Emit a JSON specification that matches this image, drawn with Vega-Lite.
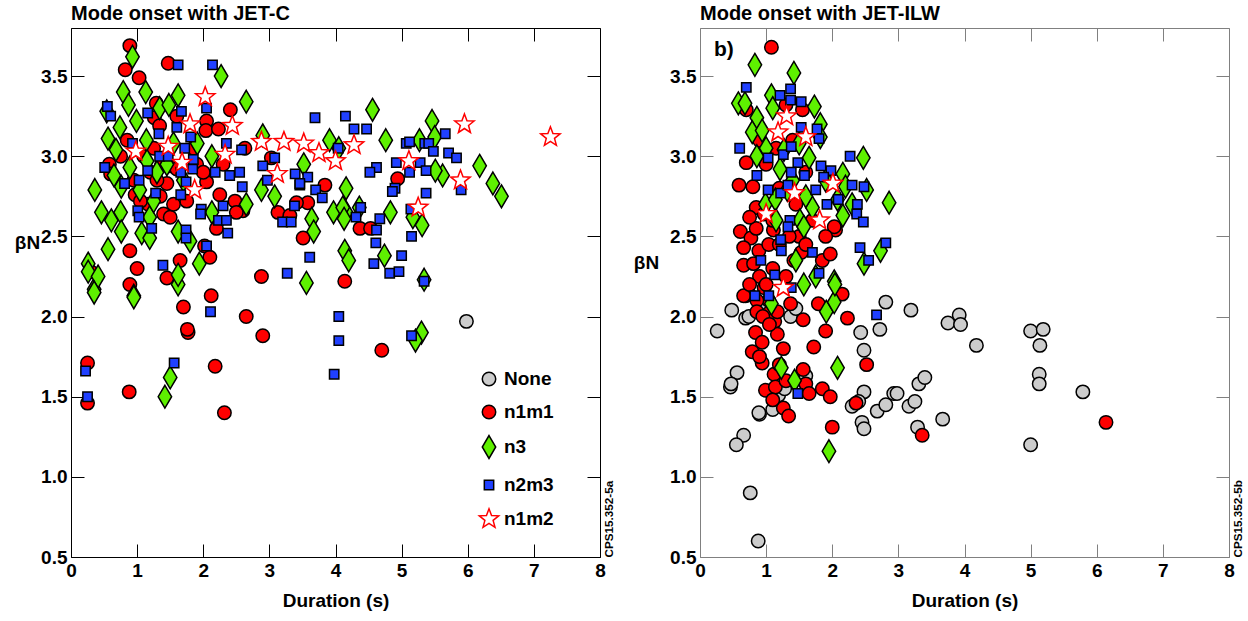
{
  "$schema": "https://vega.github.io/schema/vega-lite/v6.json",
  "padding": {"left": 14, "top": 3, "right": 2, "bottom": 2},
  "background": "white",
  "bounds": "flush",
  "spacing": 100,
  "config": {
    "font": "Liberation Sans",
    "view": {"stroke": null},
    "axis": {"grid": false, "labelFont": "Liberation Sans", "labelFontSize": 19, "labelFontWeight": "bold", "labelColor": "black", "titleFont": "Liberation Sans", "titleFontSize": 19, "titleFontWeight": "bold", "titleColor": "black", "domainColor": "black", "tickColor": "black", "domainWidth": 1, "tickWidth": 1},
    "title": {"font": "Liberation Sans", "fontSize": 20, "fontWeight": "bold", "color": "black", "anchor": "start", "frame": "group", "offset": 4}
  },
  "datasets": {
    "jetc": [
      {"duration": 5.98, "beta": 1.97, "mode": "None"},
      {"duration": 0.89, "beta": 3.69, "mode": "n1m1"}, {"duration": 0.82, "beta": 3.54, "mode": "n1m1"}, {"duration": 1.03, "beta": 3.49, "mode": "n1m1"}, {"duration": 1.47, "beta": 3.58, "mode": "n1m1"}, {"duration": 2.41, "beta": 3.29, "mode": "n1m1"}, {"duration": 1.29, "beta": 3.33, "mode": "n1m1"}, {"duration": 1.26, "beta": 3.24, "mode": "n1m1"}, {"duration": 1.34, "beta": 3.19, "mode": "n1m1"}, {"duration": 2.05, "beta": 3.22, "mode": "n1m1"}, {"duration": 2.04, "beta": 3.16, "mode": "n1m1"}, {"duration": 2.23, "beta": 3.17, "mode": "n1m1"}, {"duration": 0.58, "beta": 2.95, "mode": "n1m1"}, {"duration": 0.60, "beta": 2.89, "mode": "n1m1"}, {"duration": 1.37, "beta": 2.95, "mode": "n1m1"}, {"duration": 1.50, "beta": 2.94, "mode": "n1m1"}, {"duration": 0.97, "beta": 2.76, "mode": "n1m1"}, {"duration": 1.17, "beta": 2.70, "mode": "n1m1"}, {"duration": 1.45, "beta": 2.83, "mode": "n1m1"}, {"duration": 1.40, "beta": 2.64, "mode": "n1m1"}, {"duration": 1.50, "beta": 2.62, "mode": "n1m1"}, {"duration": 0.89, "beta": 2.41, "mode": "n1m1"}, {"duration": 2.05, "beta": 2.84, "mode": "n1m1"}, {"duration": 2.25, "beta": 2.76, "mode": "n1m1"}, {"duration": 2.48, "beta": 2.72, "mode": "n1m1"}, {"duration": 2.60, "beta": 2.66, "mode": "n1m1"}, {"duration": 2.63, "beta": 3.05, "mode": "n1m1"}, {"duration": 2.88, "beta": 2.25, "mode": "n1m1"}, {"duration": 2.02, "beta": 2.44, "mode": "n1m1"}, {"duration": 2.10, "beta": 2.37, "mode": "n1m1"}, {"duration": 1.65, "beta": 2.35, "mode": "n1m1"}, {"duration": 1.45, "beta": 2.24, "mode": "n1m1"}, {"duration": 0.89, "beta": 2.20, "mode": "n1m1"}, {"duration": 2.12, "beta": 2.13, "mode": "n1m1"}, {"duration": 1.70, "beta": 2.06, "mode": "n1m1"}, {"duration": 1.77, "beta": 1.90, "mode": "n1m1"}, {"duration": 2.65, "beta": 2.00, "mode": "n1m1"}, {"duration": 2.90, "beta": 1.88, "mode": "n1m1"}, {"duration": 2.18, "beta": 1.69, "mode": "n1m1"}, {"duration": 0.88, "beta": 1.53, "mode": "n1m1"}, {"duration": 0.25, "beta": 1.71, "mode": "n1m1"}, {"duration": 0.25, "beta": 1.46, "mode": "n1m1"}, {"duration": 2.32, "beta": 1.40, "mode": "n1m1"}, {"duration": 4.70, "beta": 1.79, "mode": "n1m1"}, {"duration": 3.51, "beta": 2.49, "mode": "n1m1"}, {"duration": 3.58, "beta": 2.71, "mode": "n1m1"}, {"duration": 3.84, "beta": 2.82, "mode": "n1m1"}, {"duration": 4.14, "beta": 2.22, "mode": "n1m1"}, {"duration": 4.37, "beta": 2.55, "mode": "n1m1"}, {"duration": 4.53, "beta": 2.55, "mode": "n1m1"}, {"duration": 4.94, "beta": 2.86, "mode": "n1m1"}, {"duration": 3.13, "beta": 2.65, "mode": "n1m1"}, {"duration": 3.31, "beta": 2.63, "mode": "n1m1"}, {"duration": 3.41, "beta": 2.71, "mode": "n1m1"}, {"duration": 3.03, "beta": 2.99, "mode": "n1m1"}, {"duration": 1.76, "beta": 1.92, "mode": "n1m1"}, {"duration": 1.20, "beta": 2.90, "mode": "n1m1"}, {"duration": 1.30, "beta": 2.85, "mode": "n1m1"}, {"duration": 1.10, "beta": 3.00, "mode": "n1m1"}, {"duration": 1.60, "beta": 2.92, "mode": "n1m1"}, {"duration": 1.90, "beta": 2.95, "mode": "n1m1"}, {"duration": 1.25, "beta": 3.05, "mode": "n1m1"}, {"duration": 0.95, "beta": 2.85, "mode": "n1m1"}, {"duration": 1.05, "beta": 2.72, "mode": "n1m1"}, {"duration": 1.75, "beta": 2.72, "mode": "n1m1"}, {"duration": 2.00, "beta": 2.90, "mode": "n1m1"}, {"duration": 1.55, "beta": 2.70, "mode": "n1m1"}, {"duration": 1.35, "beta": 2.75, "mode": "n1m1"}, {"duration": 0.75, "beta": 3.00, "mode": "n1m1"}, {"duration": 0.85, "beta": 3.10, "mode": "n1m1"}, {"duration": 1.85, "beta": 3.05, "mode": "n1m1"}, {"duration": 2.30, "beta": 2.95, "mode": "n1m1"}, {"duration": 1.00, "beta": 2.30, "mode": "n1m1"}, {"duration": 0.30, "beta": 2.28, "mode": "n1m1"}, {"duration": 2.20, "beta": 2.55, "mode": "n1m1"}, {"duration": 1.60, "beta": 3.25, "mode": "n1m1"}, {"duration": 2.50, "beta": 2.65, "mode": "n1m1"},
      {"duration": 0.93, "beta": 3.62, "mode": "n3"}, {"duration": 2.27, "beta": 3.50, "mode": "n3"}, {"duration": 0.79, "beta": 3.40, "mode": "n3"}, {"duration": 1.13, "beta": 3.40, "mode": "n3"}, {"duration": 1.62, "beta": 3.38, "mode": "n3"}, {"duration": 0.87, "beta": 3.32, "mode": "n3"}, {"duration": 0.54, "beta": 3.28, "mode": "n3"}, {"duration": 1.34, "beta": 3.30, "mode": "n3"}, {"duration": 1.48, "beta": 3.32, "mode": "n3"}, {"duration": 2.65, "beta": 3.34, "mode": "n3"}, {"duration": 0.99, "beta": 3.22, "mode": "n3"}, {"duration": 0.74, "beta": 3.18, "mode": "n3"}, {"duration": 0.56, "beta": 3.11, "mode": "n3"}, {"duration": 0.68, "beta": 3.04, "mode": "n3"}, {"duration": 1.14, "beta": 3.10, "mode": "n3"}, {"duration": 1.55, "beta": 3.08, "mode": "n3"}, {"duration": 1.91, "beta": 3.08, "mode": "n3"}, {"duration": 2.13, "beta": 3.00, "mode": "n3"}, {"duration": 1.15, "beta": 2.97, "mode": "n3"}, {"duration": 0.89, "beta": 2.93, "mode": "n3"}, {"duration": 0.36, "beta": 2.79, "mode": "n3"}, {"duration": 0.76, "beta": 2.81, "mode": "n3"}, {"duration": 1.04, "beta": 2.79, "mode": "n3"}, {"duration": 0.46, "beta": 2.65, "mode": "n3"}, {"duration": 0.61, "beta": 2.60, "mode": "n3"}, {"duration": 0.75, "beta": 2.65, "mode": "n3"}, {"duration": 0.76, "beta": 2.53, "mode": "n3"}, {"duration": 1.07, "beta": 2.52, "mode": "n3"}, {"duration": 1.19, "beta": 2.49, "mode": "n3"}, {"duration": 1.19, "beta": 2.62, "mode": "n3"}, {"duration": 0.56, "beta": 2.42, "mode": "n3"}, {"duration": 0.26, "beta": 2.33, "mode": "n3"}, {"duration": 0.26, "beta": 2.28, "mode": "n3"}, {"duration": 0.35, "beta": 2.17, "mode": "n3"}, {"duration": 0.41, "beta": 2.25, "mode": "n3"}, {"duration": 0.95, "beta": 2.13, "mode": "n3"}, {"duration": 1.62, "beta": 2.53, "mode": "n3"}, {"duration": 1.62, "beta": 2.20, "mode": "n3"}, {"duration": 1.62, "beta": 2.26, "mode": "n3"}, {"duration": 1.80, "beta": 2.47, "mode": "n3"}, {"duration": 1.94, "beta": 2.33, "mode": "n3"}, {"duration": 2.13, "beta": 2.65, "mode": "n3"}, {"duration": 2.65, "beta": 2.70, "mode": "n3"}, {"duration": 2.88, "beta": 2.79, "mode": "n3"}, {"duration": 2.90, "beta": 3.13, "mode": "n3"}, {"duration": 3.08, "beta": 2.75, "mode": "n3"}, {"duration": 3.56, "beta": 2.21, "mode": "n3"}, {"duration": 3.52, "beta": 2.95, "mode": "n3"}, {"duration": 3.64, "beta": 2.61, "mode": "n3"}, {"duration": 3.67, "beta": 2.53, "mode": "n3"}, {"duration": 3.91, "beta": 3.10, "mode": "n3"}, {"duration": 4.05, "beta": 3.05, "mode": "n3"}, {"duration": 4.16, "beta": 2.80, "mode": "n3"}, {"duration": 4.16, "beta": 2.65, "mode": "n3"}, {"duration": 4.14, "beta": 2.41, "mode": "n3"}, {"duration": 4.20, "beta": 2.35, "mode": "n3"}, {"duration": 4.56, "beta": 3.29, "mode": "n3"}, {"duration": 5.46, "beta": 3.22, "mode": "n3"}, {"duration": 4.76, "beta": 3.10, "mode": "n3"}, {"duration": 5.27, "beta": 3.10, "mode": "n3"}, {"duration": 5.50, "beta": 3.12, "mode": "n3"}, {"duration": 6.18, "beta": 2.94, "mode": "n3"}, {"duration": 6.38, "beta": 2.83, "mode": "n3"}, {"duration": 6.51, "beta": 2.75, "mode": "n3"}, {"duration": 5.62, "beta": 2.88, "mode": "n3"}, {"duration": 5.51, "beta": 2.91, "mode": "n3"}, {"duration": 3.97, "beta": 2.65, "mode": "n3"}, {"duration": 4.11, "beta": 2.68, "mode": "n3"}, {"duration": 4.13, "beta": 2.61, "mode": "n3"}, {"duration": 4.36, "beta": 2.68, "mode": "n3"}, {"duration": 4.83, "beta": 2.65, "mode": "n3"}, {"duration": 5.17, "beta": 2.62, "mode": "n3"}, {"duration": 5.31, "beta": 2.57, "mode": "n3"}, {"duration": 4.74, "beta": 2.38, "mode": "n3"}, {"duration": 5.34, "beta": 2.23, "mode": "n3"}, {"duration": 5.30, "beta": 1.90, "mode": "n3"}, {"duration": 5.21, "beta": 1.85, "mode": "n3"}, {"duration": 1.50, "beta": 1.62, "mode": "n3"}, {"duration": 1.42, "beta": 1.50, "mode": "n3"}, {"duration": 0.95, "beta": 2.12, "mode": "n3"}, {"duration": 0.35, "beta": 2.15, "mode": "n3"}, {"duration": 1.30, "beta": 2.90, "mode": "n3"}, {"duration": 1.70, "beta": 2.85, "mode": "n3"}, {"duration": 1.45, "beta": 2.95, "mode": "n3"}, {"duration": 0.65, "beta": 2.88, "mode": "n3"}, {"duration": 1.25, "beta": 2.72, "mode": "n3"},
      {"duration": 1.62, "beta": 3.57, "mode": "n2m3"}, {"duration": 2.14, "beta": 3.57, "mode": "n2m3"}, {"duration": 0.55, "beta": 3.31, "mode": "n2m3"}, {"duration": 0.60, "beta": 3.25, "mode": "n2m3"}, {"duration": 1.16, "beta": 3.27, "mode": "n2m3"}, {"duration": 1.67, "beta": 3.28, "mode": "n2m3"}, {"duration": 1.33, "beta": 3.14, "mode": "n2m3"}, {"duration": 1.60, "beta": 3.18, "mode": "n2m3"}, {"duration": 1.81, "beta": 3.12, "mode": "n2m3"}, {"duration": 2.05, "beta": 3.30, "mode": "n2m3"}, {"duration": 2.35, "beta": 3.08, "mode": "n2m3"}, {"duration": 2.58, "beta": 3.04, "mode": "n2m3"}, {"duration": 3.69, "beta": 3.24, "mode": "n2m3"}, {"duration": 4.15, "beta": 3.25, "mode": "n2m3"}, {"duration": 4.28, "beta": 3.17, "mode": "n2m3"}, {"duration": 4.47, "beta": 3.17, "mode": "n2m3"}, {"duration": 4.04, "beta": 3.05, "mode": "n2m3"}, {"duration": 5.66, "beta": 3.14, "mode": "n2m3"}, {"duration": 5.07, "beta": 3.08, "mode": "n2m3"}, {"duration": 5.12, "beta": 3.09, "mode": "n2m3"}, {"duration": 5.35, "beta": 3.08, "mode": "n2m3"}, {"duration": 5.41, "beta": 3.08, "mode": "n2m3"}, {"duration": 5.48, "beta": 3.03, "mode": "n2m3"}, {"duration": 5.71, "beta": 3.02, "mode": "n2m3"}, {"duration": 5.83, "beta": 2.99, "mode": "n2m3"}, {"duration": 5.90, "beta": 2.79, "mode": "n2m3"}, {"duration": 4.62, "beta": 2.93, "mode": "n2m3"}, {"duration": 4.52, "beta": 2.90, "mode": "n2m3"}, {"duration": 4.92, "beta": 2.96, "mode": "n2m3"}, {"duration": 5.12, "beta": 2.90, "mode": "n2m3"}, {"duration": 5.28, "beta": 2.96, "mode": "n2m3"}, {"duration": 5.37, "beta": 2.91, "mode": "n2m3"}, {"duration": 4.90, "beta": 2.80, "mode": "n2m3"}, {"duration": 4.86, "beta": 2.78, "mode": "n2m3"}, {"duration": 5.37, "beta": 2.77, "mode": "n2m3"}, {"duration": 3.58, "beta": 2.87, "mode": "n2m3"}, {"duration": 3.70, "beta": 2.79, "mode": "n2m3"}, {"duration": 3.80, "beta": 2.74, "mode": "n2m3"}, {"duration": 3.46, "beta": 2.82, "mode": "n2m3"}, {"duration": 4.38, "beta": 2.68, "mode": "n2m3"}, {"duration": 4.31, "beta": 2.62, "mode": "n2m3"}, {"duration": 4.67, "beta": 2.61, "mode": "n2m3"}, {"duration": 4.62, "beta": 2.54, "mode": "n2m3"}, {"duration": 4.61, "beta": 2.46, "mode": "n2m3"}, {"duration": 5.15, "beta": 2.50, "mode": "n2m3"}, {"duration": 5.14, "beta": 2.67, "mode": "n2m3"}, {"duration": 5.00, "beta": 2.38, "mode": "n2m3"}, {"duration": 3.61, "beta": 2.37, "mode": "n2m3"}, {"duration": 4.58, "beta": 2.33, "mode": "n2m3"}, {"duration": 4.82, "beta": 2.27, "mode": "n2m3"}, {"duration": 4.96, "beta": 2.28, "mode": "n2m3"}, {"duration": 5.34, "beta": 2.22, "mode": "n2m3"}, {"duration": 4.05, "beta": 2.00, "mode": "n2m3"}, {"duration": 4.05, "beta": 1.85, "mode": "n2m3"}, {"duration": 3.98, "beta": 1.64, "mode": "n2m3"}, {"duration": 5.15, "beta": 1.88, "mode": "n2m3"}, {"duration": 1.56, "beta": 1.71, "mode": "n2m3"}, {"duration": 0.22, "beta": 1.66, "mode": "n2m3"}, {"duration": 0.25, "beta": 1.50, "mode": "n2m3"}, {"duration": 2.11, "beta": 2.03, "mode": "n2m3"}, {"duration": 0.93, "beta": 3.08, "mode": "n2m3"}, {"duration": 0.51, "beta": 2.93, "mode": "n2m3"}, {"duration": 0.81, "beta": 2.83, "mode": "n2m3"}, {"duration": 1.03, "beta": 2.85, "mode": "n2m3"}, {"duration": 1.16, "beta": 2.91, "mode": "n2m3"}, {"duration": 1.34, "beta": 3.00, "mode": "n2m3"}, {"duration": 1.47, "beta": 3.00, "mode": "n2m3"}, {"duration": 1.72, "beta": 3.05, "mode": "n2m3"}, {"duration": 1.85, "beta": 2.98, "mode": "n2m3"}, {"duration": 1.66, "beta": 2.90, "mode": "n2m3"}, {"duration": 1.74, "beta": 2.84, "mode": "n2m3"}, {"duration": 1.84, "beta": 2.92, "mode": "n2m3"}, {"duration": 1.28, "beta": 2.77, "mode": "n2m3"}, {"duration": 1.66, "beta": 2.76, "mode": "n2m3"}, {"duration": 1.01, "beta": 2.66, "mode": "n2m3"}, {"duration": 1.03, "beta": 2.62, "mode": "n2m3"}, {"duration": 1.22, "beta": 2.55, "mode": "n2m3"}, {"duration": 1.97, "beta": 2.67, "mode": "n2m3"}, {"duration": 1.96, "beta": 2.64, "mode": "n2m3"}, {"duration": 2.18, "beta": 2.90, "mode": "n2m3"}, {"duration": 2.40, "beta": 2.88, "mode": "n2m3"}, {"duration": 2.55, "beta": 2.90, "mode": "n2m3"}, {"duration": 2.59, "beta": 2.81, "mode": "n2m3"}, {"duration": 2.30, "beta": 2.69, "mode": "n2m3"}, {"duration": 2.23, "beta": 2.60, "mode": "n2m3"}, {"duration": 2.35, "beta": 2.60, "mode": "n2m3"}, {"duration": 2.37, "beta": 2.52, "mode": "n2m3"}, {"duration": 2.05, "beta": 2.44, "mode": "n2m3"}, {"duration": 1.74, "beta": 2.54, "mode": "n2m3"}, {"duration": 1.74, "beta": 2.49, "mode": "n2m3"}, {"duration": 1.39, "beta": 2.32, "mode": "n2m3"}, {"duration": 2.90, "beta": 2.94, "mode": "n2m3"}, {"duration": 3.08, "beta": 2.99, "mode": "n2m3"}, {"duration": 2.97, "beta": 2.85, "mode": "n2m3"}, {"duration": 3.39, "beta": 2.89, "mode": "n2m3"}, {"duration": 3.46, "beta": 2.83, "mode": "n2m3"}, {"duration": 3.38, "beta": 2.69, "mode": "n2m3"}, {"duration": 3.20, "beta": 2.59, "mode": "n2m3"}, {"duration": 3.33, "beta": 2.59, "mode": "n2m3"}, {"duration": 3.27, "beta": 2.27, "mode": "n2m3"},
      {"duration": 0.98, "beta": 3.03, "mode": "n1m2"}, {"duration": 1.47, "beta": 3.06, "mode": "n1m2"}, {"duration": 1.68, "beta": 2.96, "mode": "n1m2"}, {"duration": 1.80, "beta": 3.20, "mode": "n1m2"}, {"duration": 1.87, "beta": 2.79, "mode": "n1m2"}, {"duration": 2.03, "beta": 3.37, "mode": "n1m2"}, {"duration": 2.33, "beta": 3.01, "mode": "n1m2"}, {"duration": 2.44, "beta": 3.19, "mode": "n1m2"}, {"duration": 2.88, "beta": 3.09, "mode": "n1m2"}, {"duration": 3.12, "beta": 2.89, "mode": "n1m2"}, {"duration": 3.22, "beta": 3.09, "mode": "n1m2"}, {"duration": 3.52, "beta": 3.08, "mode": "n1m2"}, {"duration": 3.75, "beta": 3.02, "mode": "n1m2"}, {"duration": 4.00, "beta": 2.97, "mode": "n1m2"}, {"duration": 4.28, "beta": 3.07, "mode": "n1m2"}, {"duration": 5.11, "beta": 2.97, "mode": "n1m2"}, {"duration": 5.25, "beta": 2.68, "mode": "n1m2"}, {"duration": 5.89, "beta": 2.85, "mode": "n1m2"}, {"duration": 5.95, "beta": 3.20, "mode": "n1m2"}, {"duration": 7.25, "beta": 3.12, "mode": "n1m2"}
    ],
    "ilw": [
      {"duration": 0.26, "beta": 1.91, "mode": "None"}, {"duration": 0.48, "beta": 2.04, "mode": "None"}, {"duration": 0.69, "beta": 1.99, "mode": "None"}, {"duration": 0.56, "beta": 1.65, "mode": "None"}, {"duration": 0.46, "beta": 1.56, "mode": "None"}, {"duration": 0.66, "beta": 1.26, "mode": "None"}, {"duration": 0.55, "beta": 1.20, "mode": "None"}, {"duration": 0.90, "beta": 1.39, "mode": "None"}, {"duration": 0.76, "beta": 0.90, "mode": "None"}, {"duration": 0.88, "beta": 0.60, "mode": "None"}, {"duration": 1.37, "beta": 2.00, "mode": "None"}, {"duration": 1.19, "beta": 1.51, "mode": "None"}, {"duration": 2.43, "beta": 1.90, "mode": "None"}, {"duration": 2.72, "beta": 1.92, "mode": "None"}, {"duration": 2.81, "beta": 2.09, "mode": "None"}, {"duration": 2.48, "beta": 1.79, "mode": "None"}, {"duration": 3.19, "beta": 2.04, "mode": "None"}, {"duration": 2.48, "beta": 1.53, "mode": "None"}, {"duration": 2.40, "beta": 1.47, "mode": "None"}, {"duration": 2.30, "beta": 1.44, "mode": "None"}, {"duration": 2.45, "beta": 1.34, "mode": "None"}, {"duration": 2.48, "beta": 1.30, "mode": "None"}, {"duration": 2.68, "beta": 1.41, "mode": "None"}, {"duration": 2.81, "beta": 1.45, "mode": "None"}, {"duration": 2.93, "beta": 1.52, "mode": "None"}, {"duration": 3.16, "beta": 1.44, "mode": "None"}, {"duration": 3.25, "beta": 1.47, "mode": "None"}, {"duration": 3.31, "beta": 1.58, "mode": "None"}, {"duration": 3.40, "beta": 1.62, "mode": "None"}, {"duration": 3.29, "beta": 1.31, "mode": "None"}, {"duration": 3.67, "beta": 1.36, "mode": "None"}, {"duration": 1.60, "beta": 1.63, "mode": "None"}, {"duration": 3.92, "beta": 2.01, "mode": "None"}, {"duration": 3.75, "beta": 1.96, "mode": "None"}, {"duration": 3.94, "beta": 1.95, "mode": "None"}, {"duration": 4.18, "beta": 1.82, "mode": "None"}, {"duration": 5.00, "beta": 1.91, "mode": "None"}, {"duration": 5.19, "beta": 1.92, "mode": "None"}, {"duration": 5.14, "beta": 1.82, "mode": "None"}, {"duration": 5.13, "beta": 1.64, "mode": "None"}, {"duration": 5.13, "beta": 1.58, "mode": "None"}, {"duration": 5.79, "beta": 1.53, "mode": "None"}, {"duration": 5.00, "beta": 1.20, "mode": "None"}, {"duration": 2.98, "beta": 1.52, "mode": "None"}, {"duration": 0.74, "beta": 2.00, "mode": "None"}, {"duration": 0.93, "beta": 2.05, "mode": "None"}, {"duration": 1.10, "beta": 1.42, "mode": "None"}, {"duration": 0.47, "beta": 1.58, "mode": "None"}, {"duration": 0.89, "beta": 1.40, "mode": "None"}, {"duration": 1.45, "beta": 2.05, "mode": "None"}, {"duration": 1.28, "beta": 1.55, "mode": "None"},
      {"duration": 1.08, "beta": 3.68, "mode": "n1m1"}, {"duration": 0.59, "beta": 2.82, "mode": "n1m1"}, {"duration": 0.80, "beta": 2.81, "mode": "n1m1"}, {"duration": 0.70, "beta": 2.96, "mode": "n1m1"}, {"duration": 0.85, "beta": 2.68, "mode": "n1m1"}, {"duration": 0.97, "beta": 2.64, "mode": "n1m1"}, {"duration": 0.61, "beta": 2.53, "mode": "n1m1"}, {"duration": 0.77, "beta": 2.49, "mode": "n1m1"}, {"duration": 0.66, "beta": 2.43, "mode": "n1m1"}, {"duration": 0.89, "beta": 2.41, "mode": "n1m1"}, {"duration": 1.04, "beta": 2.45, "mode": "n1m1"}, {"duration": 1.11, "beta": 2.54, "mode": "n1m1"}, {"duration": 0.66, "beta": 2.32, "mode": "n1m1"}, {"duration": 0.81, "beta": 2.33, "mode": "n1m1"}, {"duration": 0.97, "beta": 2.18, "mode": "n1m1"}, {"duration": 0.69, "beta": 2.13, "mode": "n1m1"}, {"duration": 1.53, "beta": 2.40, "mode": "n1m1"}, {"duration": 1.42, "beta": 2.35, "mode": "n1m1"}, {"duration": 1.85, "beta": 2.35, "mode": "n1m1"}, {"duration": 1.97, "beta": 2.39, "mode": "n1m1"}, {"duration": 2.05, "beta": 2.54, "mode": "n1m1"}, {"duration": 1.55, "beta": 3.29, "mode": "n1m1"}, {"duration": 2.03, "beta": 2.56, "mode": "n1m1"}, {"duration": 1.04, "beta": 2.10, "mode": "n1m1"}, {"duration": 1.13, "beta": 1.97, "mode": "n1m1"}, {"duration": 1.56, "beta": 1.98, "mode": "n1m1"}, {"duration": 1.90, "beta": 1.91, "mode": "n1m1"}, {"duration": 2.23, "beta": 1.99, "mode": "n1m1"}, {"duration": 1.72, "beta": 1.81, "mode": "n1m1"}, {"duration": 0.84, "beta": 1.90, "mode": "n1m1"}, {"duration": 0.94, "beta": 1.84, "mode": "n1m1"}, {"duration": 1.17, "beta": 1.89, "mode": "n1m1"}, {"duration": 1.26, "beta": 1.80, "mode": "n1m1"}, {"duration": 0.79, "beta": 1.78, "mode": "n1m1"}, {"duration": 0.94, "beta": 1.71, "mode": "n1m1"}, {"duration": 1.12, "beta": 1.64, "mode": "n1m1"}, {"duration": 0.99, "beta": 1.54, "mode": "n1m1"}, {"duration": 1.14, "beta": 1.56, "mode": "n1m1"}, {"duration": 1.26, "beta": 1.43, "mode": "n1m1"}, {"duration": 1.34, "beta": 1.38, "mode": "n1m1"}, {"duration": 1.56, "beta": 1.67, "mode": "n1m1"}, {"duration": 1.60, "beta": 1.58, "mode": "n1m1"}, {"duration": 1.65, "beta": 1.52, "mode": "n1m1"}, {"duration": 1.85, "beta": 1.55, "mode": "n1m1"}, {"duration": 1.97, "beta": 1.50, "mode": "n1m1"}, {"duration": 2.00, "beta": 1.31, "mode": "n1m1"}, {"duration": 1.79, "beta": 2.08, "mode": "n1m1"}, {"duration": 2.15, "beta": 2.14, "mode": "n1m1"}, {"duration": 2.52, "beta": 1.70, "mode": "n1m1"}, {"duration": 2.36, "beta": 1.46, "mode": "n1m1"}, {"duration": 3.36, "beta": 1.26, "mode": "n1m1"}, {"duration": 6.14, "beta": 1.34, "mode": "n1m1"}, {"duration": 0.74, "beta": 2.14, "mode": "n1m1"}, {"duration": 0.86, "beta": 2.10, "mode": "n1m1"}, {"duration": 0.86, "beta": 2.03, "mode": "n1m1"}, {"duration": 1.04, "beta": 2.02, "mode": "n1m1"}, {"duration": 1.17, "beta": 2.03, "mode": "n1m1"}, {"duration": 1.37, "beta": 2.08, "mode": "n1m1"}, {"duration": 0.66, "beta": 2.13, "mode": "n1m1"}, {"duration": 0.70, "beta": 3.29, "mode": "n1m1"}, {"duration": 1.30, "beta": 3.32, "mode": "n1m1"}, {"duration": 1.40, "beta": 3.10, "mode": "n1m1"}, {"duration": 1.20, "beta": 2.80, "mode": "n1m1"}, {"duration": 1.00, "beta": 2.95, "mode": "n1m1"}, {"duration": 1.50, "beta": 2.50, "mode": "n1m1"}, {"duration": 1.20, "beta": 2.45, "mode": "n1m1"}, {"duration": 1.35, "beta": 2.50, "mode": "n1m1"}, {"duration": 1.60, "beta": 2.45, "mode": "n1m1"}, {"duration": 1.70, "beta": 2.60, "mode": "n1m1"}, {"duration": 1.90, "beta": 2.50, "mode": "n1m1"}, {"duration": 1.10, "beta": 2.30, "mode": "n1m1"}, {"duration": 0.90, "beta": 2.25, "mode": "n1m1"}, {"duration": 1.00, "beta": 2.20, "mode": "n1m1"}, {"duration": 0.75, "beta": 2.20, "mode": "n1m1"}, {"duration": 1.30, "beta": 2.25, "mode": "n1m1"}, {"duration": 1.10, "beta": 2.60, "mode": "n1m1"}, {"duration": 0.95, "beta": 2.00, "mode": "n1m1"}, {"duration": 1.05, "beta": 1.95, "mode": "n1m1"}, {"duration": 0.90, "beta": 1.75, "mode": "n1m1"}, {"duration": 1.20, "beta": 1.70, "mode": "n1m1"}, {"duration": 1.30, "beta": 1.60, "mode": "n1m1"}, {"duration": 1.10, "beta": 1.48, "mode": "n1m1"}, {"duration": 0.85, "beta": 2.55, "mode": "n1m1"}, {"duration": 0.75, "beta": 2.62, "mode": "n1m1"}, {"duration": 1.45, "beta": 2.70, "mode": "n1m1"}, {"duration": 1.60, "beta": 2.90, "mode": "n1m1"}, {"duration": 1.15, "beta": 3.05, "mode": "n1m1"}, {"duration": 0.90, "beta": 3.10, "mode": "n1m1"},
      {"duration": 0.83, "beta": 3.57, "mode": "n3"}, {"duration": 1.42, "beta": 3.52, "mode": "n3"}, {"duration": 0.58, "beta": 3.33, "mode": "n3"}, {"duration": 0.68, "beta": 3.33, "mode": "n3"}, {"duration": 1.08, "beta": 3.38, "mode": "n3"}, {"duration": 0.86, "beta": 3.24, "mode": "n3"}, {"duration": 0.79, "beta": 3.15, "mode": "n3"}, {"duration": 0.94, "beta": 3.16, "mode": "n3"}, {"duration": 1.73, "beta": 3.31, "mode": "n3"}, {"duration": 1.82, "beta": 3.20, "mode": "n3"}, {"duration": 0.86, "beta": 3.00, "mode": "n3"}, {"duration": 1.21, "beta": 2.92, "mode": "n3"}, {"duration": 1.65, "beta": 2.99, "mode": "n3"}, {"duration": 2.47, "beta": 2.99, "mode": "n3"}, {"duration": 2.16, "beta": 2.89, "mode": "n3"}, {"duration": 2.20, "beta": 2.81, "mode": "n3"}, {"duration": 2.52, "beta": 2.79, "mode": "n3"}, {"duration": 2.86, "beta": 2.71, "mode": "n3"}, {"duration": 2.08, "beta": 2.73, "mode": "n3"}, {"duration": 0.99, "beta": 2.70, "mode": "n3"}, {"duration": 1.14, "beta": 2.73, "mode": "n3"}, {"duration": 1.32, "beta": 2.79, "mode": "n3"}, {"duration": 1.70, "beta": 2.68, "mode": "n3"}, {"duration": 1.51, "beta": 2.60, "mode": "n3"}, {"duration": 1.57, "beta": 2.56, "mode": "n3"}, {"duration": 2.16, "beta": 2.63, "mode": "n3"}, {"duration": 2.73, "beta": 2.41, "mode": "n3"}, {"duration": 2.48, "beta": 2.33, "mode": "n3"}, {"duration": 2.03, "beta": 2.22, "mode": "n3"}, {"duration": 1.57, "beta": 2.20, "mode": "n3"}, {"duration": 1.27, "beta": 3.04, "mode": "n3"}, {"duration": 1.50, "beta": 3.08, "mode": "n3"}, {"duration": 1.82, "beta": 3.12, "mode": "n3"}, {"duration": 1.08, "beta": 2.08, "mode": "n3"}, {"duration": 1.91, "beta": 2.03, "mode": "n3"}, {"duration": 2.03, "beta": 2.09, "mode": "n3"}, {"duration": 2.04, "beta": 2.20, "mode": "n3"}, {"duration": 1.23, "beta": 1.68, "mode": "n3"}, {"duration": 1.43, "beta": 1.60, "mode": "n3"}, {"duration": 2.08, "beta": 1.68, "mode": "n3"}, {"duration": 1.95, "beta": 1.16, "mode": "n3"}, {"duration": 1.00, "beta": 3.05, "mode": "n3"}, {"duration": 1.40, "beta": 2.85, "mode": "n3"}, {"duration": 1.90, "beta": 2.85, "mode": "n3"}, {"duration": 1.15, "beta": 2.60, "mode": "n3"}, {"duration": 1.45, "beta": 2.35, "mode": "n3"}, {"duration": 1.75, "beta": 2.25, "mode": "n3"}, {"duration": 1.10, "beta": 3.30, "mode": "n3"}, {"duration": 2.30, "beta": 2.70, "mode": "n3"}, {"duration": 1.60, "beta": 2.75, "mode": "n3"},
      {"duration": 0.70, "beta": 3.43, "mode": "n2m3"}, {"duration": 1.21, "beta": 3.38, "mode": "n2m3"}, {"duration": 1.37, "beta": 3.42, "mode": "n2m3"}, {"duration": 1.37, "beta": 3.35, "mode": "n2m3"}, {"duration": 1.53, "beta": 3.34, "mode": "n2m3"}, {"duration": 0.60, "beta": 3.05, "mode": "n2m3"}, {"duration": 1.03, "beta": 2.99, "mode": "n2m3"}, {"duration": 1.26, "beta": 3.01, "mode": "n2m3"}, {"duration": 1.38, "beta": 3.06, "mode": "n2m3"}, {"duration": 1.48, "beta": 2.96, "mode": "n2m3"}, {"duration": 1.38, "beta": 2.90, "mode": "n2m3"}, {"duration": 0.86, "beta": 2.88, "mode": "n2m3"}, {"duration": 1.58, "beta": 2.88, "mode": "n2m3"}, {"duration": 1.83, "beta": 2.94, "mode": "n2m3"}, {"duration": 1.98, "beta": 2.91, "mode": "n2m3"}, {"duration": 1.87, "beta": 2.87, "mode": "n2m3"}, {"duration": 2.27, "beta": 3.00, "mode": "n2m3"}, {"duration": 2.30, "beta": 2.82, "mode": "n2m3"}, {"duration": 2.48, "beta": 2.81, "mode": "n2m3"}, {"duration": 1.03, "beta": 2.79, "mode": "n2m3"}, {"duration": 1.22, "beta": 2.77, "mode": "n2m3"}, {"duration": 1.33, "beta": 2.82, "mode": "n2m3"}, {"duration": 1.75, "beta": 2.79, "mode": "n2m3"}, {"duration": 1.92, "beta": 2.70, "mode": "n2m3"}, {"duration": 2.09, "beta": 2.73, "mode": "n2m3"}, {"duration": 2.38, "beta": 2.70, "mode": "n2m3"}, {"duration": 2.37, "beta": 2.64, "mode": "n2m3"}, {"duration": 2.47, "beta": 2.59, "mode": "n2m3"}, {"duration": 1.77, "beta": 3.17, "mode": "n2m3"}, {"duration": 1.80, "beta": 3.11, "mode": "n2m3"}, {"duration": 1.53, "beta": 3.18, "mode": "n2m3"}, {"duration": 1.36, "beta": 2.60, "mode": "n2m3"}, {"duration": 1.33, "beta": 2.56, "mode": "n2m3"}, {"duration": 1.22, "beta": 2.48, "mode": "n2m3"}, {"duration": 1.23, "beta": 2.41, "mode": "n2m3"}, {"duration": 1.70, "beta": 2.40, "mode": "n2m3"}, {"duration": 2.42, "beta": 2.43, "mode": "n2m3"}, {"duration": 2.81, "beta": 2.46, "mode": "n2m3"}, {"duration": 2.55, "beta": 2.35, "mode": "n2m3"}, {"duration": 0.92, "beta": 2.35, "mode": "n2m3"}, {"duration": 1.13, "beta": 2.26, "mode": "n2m3"}, {"duration": 1.80, "beta": 2.27, "mode": "n2m3"}, {"duration": 1.38, "beta": 2.18, "mode": "n2m3"}, {"duration": 0.83, "beta": 2.13, "mode": "n2m3"}, {"duration": 1.04, "beta": 2.13, "mode": "n2m3"}, {"duration": 2.67, "beta": 2.01, "mode": "n2m3"}, {"duration": 1.48, "beta": 1.52, "mode": "n2m3"},
      {"duration": 1.31, "beta": 3.25, "mode": "n1m2"}, {"duration": 1.18, "beta": 3.15, "mode": "n1m2"}, {"duration": 1.60, "beta": 3.12, "mode": "n1m2"}, {"duration": 2.01, "beta": 2.83, "mode": "n1m2"}, {"duration": 1.43, "beta": 2.77, "mode": "n1m2"}, {"duration": 1.00, "beta": 2.64, "mode": "n1m2"}, {"duration": 1.81, "beta": 2.60, "mode": "n1m2"}, {"duration": 1.26, "beta": 2.18, "mode": "n1m2"}
    ]
  },
  "hconcat": [
    {
      "width": 529,
      "height": 529,
      "title": {"text": "Mode onset with JET-C"},
      "data": {"name": "jetc"},
      "layer": [
        {
          "mark": {"type": "point", "size": 576, "opacity": 1, "fillOpacity": 1, "strokeWidth": 1.5},
          "encoding": {
            "x": {"field": "duration", "type": "quantitative", "scale": {"domain": [0, 8], "nice": false, "zero": false}, "axis": {"title": "Duration (s)", "values": [0, 1, 2, 3, 4, 5, 6, 7, 8], "format": "d", "tickSize": -13, "labelPadding": 17, "labelFlush": false, "titlePadding": 11}},
            "y": {"field": "beta", "type": "quantitative", "scale": {"domain": [0.5, 3.8], "nice": false, "zero": false}, "axis": {"title": "βN", "titleAngle": 0, "titleX": -44, "titleY": 214, "titleAlign": "center", "titleBaseline": "middle", "values": [0.5, 1, 1.5, 2, 2.5, 3, 3.5], "format": ".1f", "tickSize": -13, "labelPadding": 17, "labelFlush": false}},
            "shape": {"field": "mode", "type": "nominal", "scale": {"domain": ["None", "n1m1", "n3", "n2m3", "n1m2"], "range": ["M-0.56,0A0.56,0.56,0,1,1,0.56,0A0.56,0.56,0,1,1,-0.56,0Z", "M-0.56,0A0.56,0.56,0,1,1,0.56,0A0.56,0.56,0,1,1,-0.56,0Z", "M0,-0.95L0.56,0L0,0.95L-0.56,0Z", "M-0.39,-0.39H0.39V0.39H-0.39Z", "M0,-0.85L0.212,-0.291L0.808,-0.263L0.342,0.111L0.5,0.688L0,0.36L-0.5,0.688L-0.342,0.111L-0.808,-0.263L-0.212,-0.291Z"]}, "legend": {"title": null, "orient": "none", "legendX": 405, "legendY": 338, "symbolSize": 576, "symbolStrokeWidth": 1.5, "labelFontSize": 19, "labelFontWeight": "bold", "labelFont": "Liberation Sans", "labelColor": "black", "rowPadding": 10, "labelOffset": 2, "padding": 0}},
            "fill": {"field": "mode", "type": "nominal", "scale": {"domain": ["None", "n1m1", "n3", "n2m3", "n1m2"], "range": ["#cccccc", "#ff0000", "#5ef000", "#2040ff", "#ffffff"]}},
            "stroke": {"field": "mode", "type": "nominal", "scale": {"domain": ["None", "n1m1", "n3", "n2m3", "n1m2"], "range": ["#000000", "#000000", "#000000", "#000000", "#ff0000"]}}
          }
        },
        {
          "mark": {"type": "point", "opacity": 0},
          "encoding": {
            "x": {"field": "duration", "type": "quantitative", "scale": {"domain": [0, 8], "nice": false, "zero": false}, "axis": {"orient": "top", "title": null, "labels": false, "values": [0, 1, 2, 3, 4, 5, 6, 7, 8], "tickSize": -13}},
            "y": {"field": "beta", "type": "quantitative", "scale": {"domain": [0.5, 3.8], "nice": false, "zero": false}, "axis": {"orient": "right", "labels": false, "values": [0.5, 1, 1.5, 2, 2.5, 3, 3.5], "tickSize": -13, "title": "CPS15.352-5a", "titleFontSize": 11.7, "titleAngle": 270, "titleX": 8, "titleY": 529, "titleAlign": "left", "titleBaseline": "middle"}}
          }
        }
      ],
      "resolve": {"axis": {"x": "independent", "y": "independent"}}
    },
    {
      "width": 529,
      "height": 529,
      "title": {"text": "Mode onset with JET-ILW"},
      "data": {"name": "ilw"},
      "layer": [
        {
          "mark": {"type": "point", "size": 576, "opacity": 1, "fillOpacity": 1, "strokeWidth": 1.5},
          "encoding": {
            "x": {"field": "duration", "type": "quantitative", "scale": {"domain": [0, 8], "nice": false, "zero": false}, "axis": {"title": "Duration (s)", "values": [0, 1, 2, 3, 4, 5, 6, 7, 8], "format": "d", "tickSize": -13, "labelPadding": 17, "labelFlush": false, "titlePadding": 11, "domainColor": "#808080", "tickColor": "#808080"}},
            "y": {"field": "beta", "type": "quantitative", "scale": {"domain": [0.5, 3.8], "nice": false, "zero": false}, "axis": {"title": "βN", "titleAngle": 0, "titleX": -54, "titleY": 234, "titleAlign": "center", "titleBaseline": "middle", "values": [0.5, 1, 1.5, 2, 2.5, 3, 3.5], "format": ".1f", "tickSize": -13, "labelPadding": 17, "labelFlush": false, "domainColor": "#808080", "tickColor": "#808080"}},
            "shape": {"field": "mode", "type": "nominal", "scale": {"domain": ["None", "n1m1", "n3", "n2m3", "n1m2"], "range": ["M-0.56,0A0.56,0.56,0,1,1,0.56,0A0.56,0.56,0,1,1,-0.56,0Z", "M-0.56,0A0.56,0.56,0,1,1,0.56,0A0.56,0.56,0,1,1,-0.56,0Z", "M0,-0.95L0.56,0L0,0.95L-0.56,0Z", "M-0.39,-0.39H0.39V0.39H-0.39Z", "M0,-0.85L0.212,-0.291L0.808,-0.263L0.342,0.111L0.5,0.688L0,0.36L-0.5,0.688L-0.342,0.111L-0.808,-0.263L-0.212,-0.291Z"]}, "legend": {"title": null, "orient": "none", "legendX": 424, "legendY": 23, "symbolSize": 576, "symbolStrokeWidth": 1.5, "labelFontSize": 19, "labelFontWeight": "bold", "labelFont": "Liberation Sans", "labelColor": "black", "rowPadding": 10, "labelOffset": 2, "padding": 0}},
            "fill": {"field": "mode", "type": "nominal", "scale": {"domain": ["None", "n1m1", "n3", "n2m3", "n1m2"], "range": ["#cccccc", "#ff0000", "#5ef000", "#2040ff", "#ffffff"]}},
            "stroke": {"field": "mode", "type": "nominal", "scale": {"domain": ["None", "n1m1", "n3", "n2m3", "n1m2"], "range": ["#000000", "#000000", "#000000", "#000000", "#ff0000"]}}
          }
        },
        {
          "mark": {"type": "point", "opacity": 0},
          "encoding": {
            "x": {"field": "duration", "type": "quantitative", "scale": {"domain": [0, 8], "nice": false, "zero": false}, "axis": {"orient": "top", "title": null, "labels": false, "values": [0, 1, 2, 3, 4, 5, 6, 7, 8], "tickSize": -13, "domainColor": "#808080", "tickColor": "#808080"}},
            "y": {"field": "beta", "type": "quantitative", "scale": {"domain": [0.5, 3.8], "nice": false, "zero": false}, "axis": {"orient": "right", "labels": false, "values": [0.5, 1, 1.5, 2, 2.5, 3, 3.5], "tickSize": -13, "domainColor": "#808080", "tickColor": "#808080", "title": "CPS15.352-5b", "titleFontSize": 11.7, "titleAngle": 270, "titleX": 8, "titleY": 529, "titleAlign": "left", "titleBaseline": "middle"}}
          }
        },
        {
          "data": {"values": [{"label": "b)"}]},
          "mark": {"type": "text", "font": "Liberation Sans", "fontSize": 21, "fontWeight": "bold", "color": "black", "align": "center", "baseline": "middle"},
          "encoding": {
            "x": {"datum": 0.36, "type": "quantitative", "axis": null},
            "y": {"datum": 3.66, "type": "quantitative", "axis": null},
            "text": {"field": "label", "type": "nominal"}
          }
        }
      ],
      "resolve": {"axis": {"x": "independent", "y": "independent"}}
    }
  ]
}
